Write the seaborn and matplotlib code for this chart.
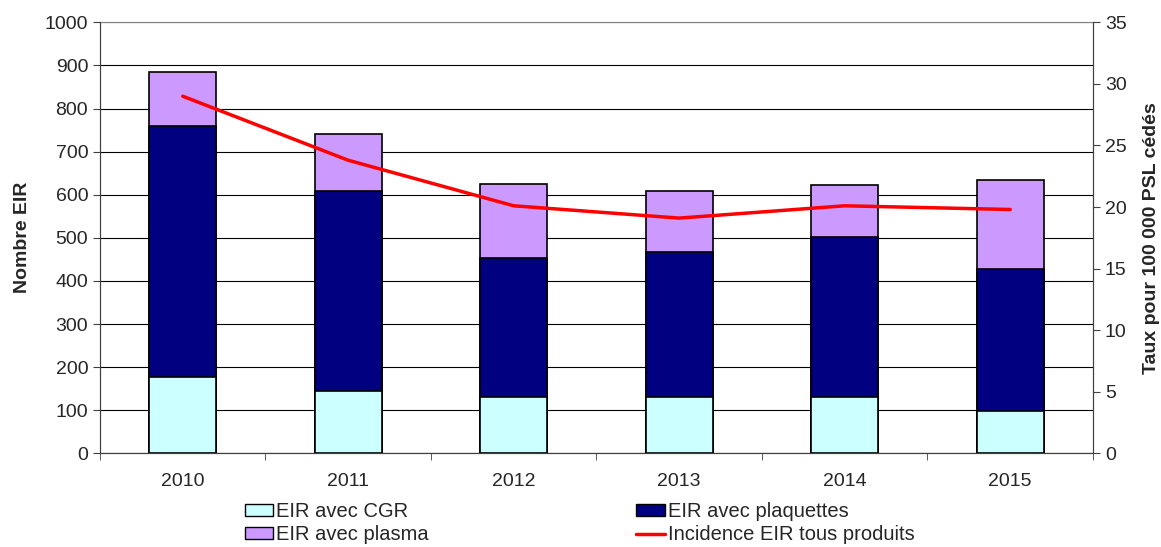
import numpy as np
import pandas as pd
import matplotlib
matplotlib.use("Agg")
import matplotlib.pyplot as plt
import seaborn as sns
from matplotlib.patches import Patch
from matplotlib.lines import Line2D

# values
years = ["2010", "2011", "2012", "2013", "2014", "2015"]
eir_cgr = [178, 145, 131, 131, 131, 99]
eir_plaquettes = [581, 464, 321, 336, 371, 329]
eir_plasma = [125, 132, 174, 142, 121, 205]
incidence = [29.0, 23.8, 20.1, 19.1, 20.1, 19.8]

col_cgr = "#CCFFFF"
col_plaq = "#000080"
col_plasma = "#CC99FF"
col_line = "#FF0000"

sns.set_style("white")
plt.rcParams["font.family"] = ["Liberation Sans", "DejaVu Sans"]
plt.rcParams["font.size"] = 14

df = pd.DataFrame({
    "annee": years,
    "cgr": eir_cgr,
    "plaq": eir_plaquettes,
    "plasma": eir_plasma,
})
# cumulative heights for the stacked look
df["cum_plaq"] = df["cgr"] + df["plaq"]
df["cum_plasma"] = df["cum_plaq"] + df["plasma"]

fig = plt.figure(figsize=(11.61, 5.47), dpi=100)
ax = fig.add_axes([0.0861, 0.1713, 0.8553, 0.7879])

bar_kw = dict(width=0.405, edgecolor="black", linewidth=1.2, ax=ax)
sns.barplot(data=df, x="annee", y="cum_plasma", color=col_plasma, saturation=1, **bar_kw)
sns.barplot(data=df, x="annee", y="cum_plaq", color=col_plaq, saturation=1, **bar_kw)
sns.barplot(data=df, x="annee", y="cgr", color=col_cgr, saturation=1, **bar_kw)

ax.set_xlim(-0.5, len(years) - 0.5)
ax.set_ylim(0, 1000)
ax.set_yticks(np.arange(0, 1001, 100))
ax.set_axisbelow(True)
ax.yaxis.grid(True, color="black", linewidth=0.8)
ax.set_xlabel("")
ax.set_ylabel("Nombre EIR", fontweight="bold", fontsize=14, labelpad=10)

# ticks between categories, labels at centres
ax.set_xticks(np.arange(-0.5, len(years), 1.0), minor=True)
ax.tick_params(axis="x", which="major", length=0, pad=14, labelsize=14)
ax.tick_params(axis="x", which="minor", length=5, color="#404040", direction="out", bottom=True)
ax.tick_params(axis="y", length=5, color="#404040", direction="out", left=True, labelsize=14)

for side in ["left", "bottom", "right"]:
    ax.spines[side].set_color("#404040")
ax.spines["top"].set_color("#808080")

ax2 = ax.twinx()
sns.lineplot(x=years, y=incidence, color=col_line, linewidth=2.5, ax=ax2)
ax2.set_ylim(0, 35)
ax2.set_yticks(np.arange(0, 36, 5))
ax2.tick_params(axis="y", length=5, color="#404040", direction="out", right=True, labelsize=14)
ax2.set_ylabel("Taux pour 100 000 PSL cédés", fontweight="bold", fontsize=14, labelpad=12)
for side in ["left", "bottom", "right"]:
    ax2.spines[side].set_color("#404040")
ax2.spines["top"].set_visible(False)

handles = [
    Patch(facecolor=col_cgr, edgecolor="black", label="EIR avec CGR"),
    Patch(facecolor=col_plasma, edgecolor="black", label="EIR avec plasma"),
    Patch(facecolor=col_plaq, edgecolor="black", label="EIR avec plaquettes"),
    Line2D([0], [0], color=col_line, linewidth=2.5, label="Incidence EIR tous produits"),
]
fig.legend(handles=handles, ncol=2, loc="lower left", bbox_to_anchor=(0.1955, -0.028),
           frameon=False, fontsize=14.5, handlelength=1.4, handleheight=0.5,
           handletextpad=0.15, columnspacing=10.3, labelspacing=0.2)

fig.savefig("out.png", dpi=100)
